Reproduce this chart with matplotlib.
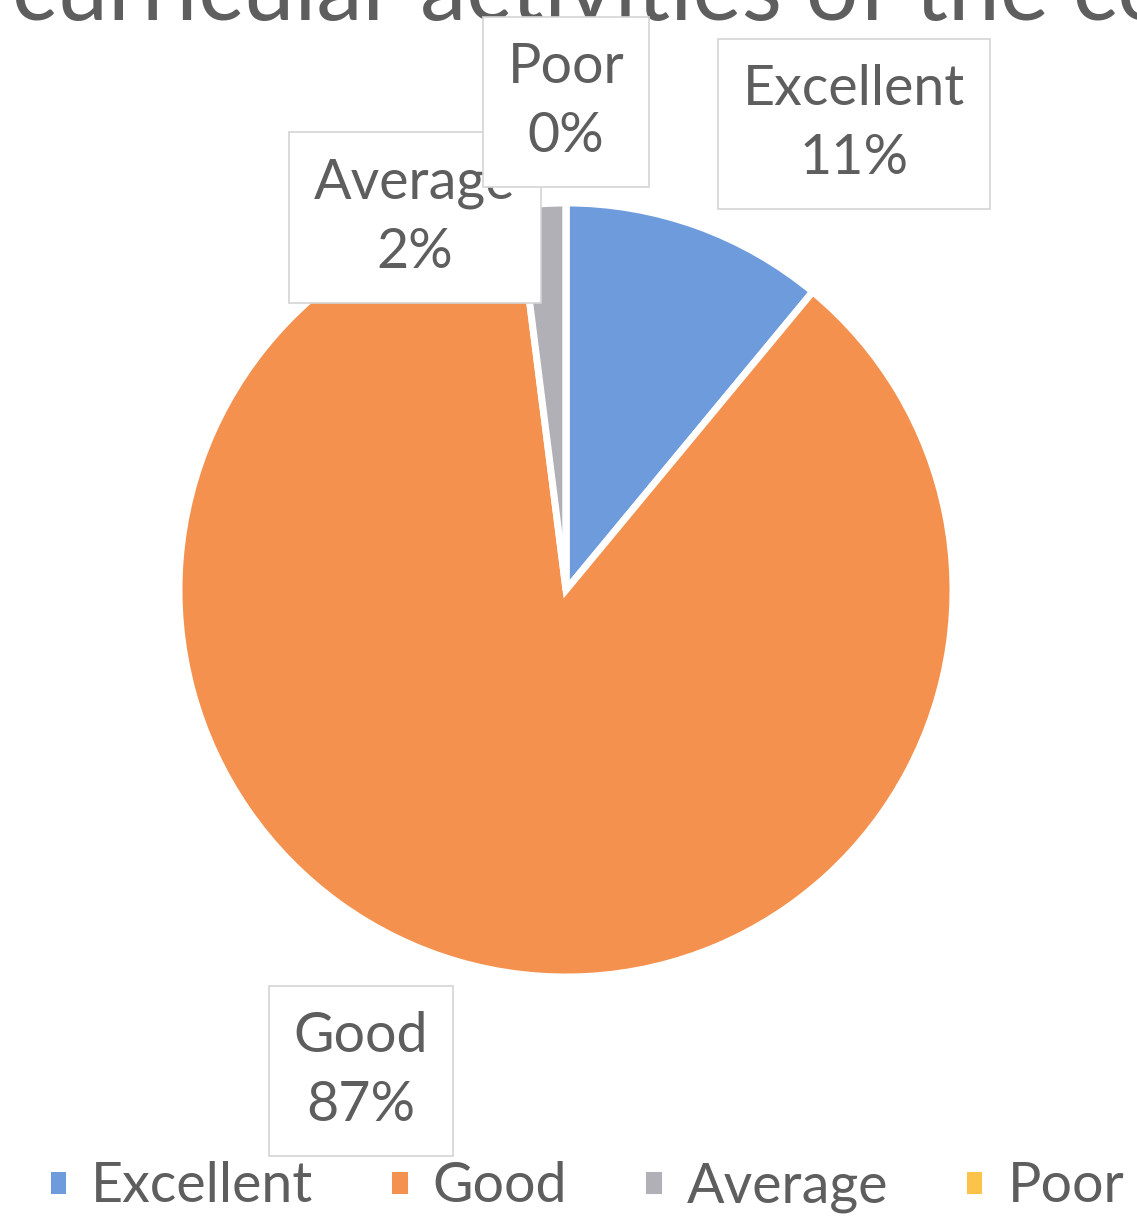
import matplotlib.pyplot as plt

plt.rcParams['font.family'] = ['Lato', 'DejaVu Sans']

W, H = 1137, 1228

categories = ['Excellent', 'Good', 'Average', 'Poor']
values = [11, 87, 2, 0]
colors = ['#6e9bdc', '#f4914f', '#b0b0b6', '#fcc34a']
explode = [0.06, 0, 0, 0]

title = 'curricular activities of the college'

# label box centres in pixel coords (x, y from top)
label_pos = {
    'Excellent': (854, 124),
    'Good': (361, 1071),
    'Average': (415, 218),
    'Poor': (566, 102),
}
label_z = {'Excellent': 3, 'Good': 3, 'Average': 3, 'Poor': 4}

text_color = '#5e5e5e'


def py(y):
    return H - y


fig = plt.figure(figsize=(W / 100, H / 100), dpi=100)
ax = fig.add_axes([0, 0, 1, 1])

wedges, _ = ax.pie(values, colors=colors, explode=explode, startangle=90,
                   counterclock=False, radius=387, center=(566, py(590)),
                   wedgeprops=dict(edgecolor='white', linewidth=5))

ax.set_xlim(0, W)
ax.set_ylim(0, H)
ax.set_aspect('equal')
ax.axis('off')

for name, val in zip(categories, values):
    x, y = label_pos[name]
    ax.text(x, py(y), f'{name}\n{val}%', ha='center', va='center',
            fontsize=40, color=text_color, linespacing=1.45, zorder=label_z[name],
            bbox=dict(boxstyle='square,pad=0.45', facecolor='white',
                      edgecolor='#d4d4d4', linewidth=1.2))

ax.text(12, py(20), title, ha='left', va='baseline', fontsize=67,
        color=text_color, clip_on=False)

leg = ax.legend(wedges, categories, loc='center', ncol=4, frameon=False,
                bbox_to_anchor=(0.515, 1 - 1187 / H), fontsize=40,
                handlelength=0.4, handleheight=0.45, handletextpad=0.4,
                columnspacing=1.35, labelcolor=text_color, borderaxespad=0)

plt.savefig('out.png', dpi=100)
